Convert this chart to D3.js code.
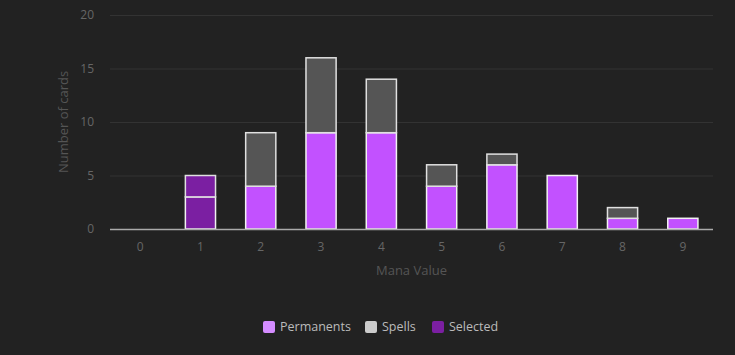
<!DOCTYPE html>
<html><head><meta charset="utf-8">
<script src="https://cdn.jsdelivr.net/npm/d3@7"></script>
<style>
html,body{margin:0;padding:0;background:#222222;}
svg{display:block;font-family:"Open Sans",sans-serif;}
</style></head>
<body><svg id="c" width="735" height="355"></svg>
<script>
const categories = ["0","1","2","3","4","5","6","7","8","9"];
const permanents = [0,3,4,9,9,4,6,5,1,1];
const spells = [0,2,5,7,5,2,1,0,1,0];
const selectedIndex = ["1"];
const yTicks = [0,5,10,15,20];
const legendItems = ["Permanents","Spells","Selected"];
const legendColors = ["#d48cff","#cccccc","#7b1fa2"];

const svg = d3.select("#c");
const m = {l:110, r:22, t:15, b:126};
const W = 735, H = 355;
const x = d3.scaleBand().domain(categories).range([m.l, W-m.r]).paddingInner(0.5).paddingOuter(0.25);
const y = d3.scaleLinear().domain([0,20]).range([H-m.b, m.t]);

// gridlines
svg.append("g").selectAll("line").data(yTicks.filter(d=>d>0)).join("line")
  .attr("x1", m.l).attr("x2", W-m.r)
  .attr("y1", d=>y(d)+0.5).attr("y2", d=>y(d)+0.5)
  .attr("stroke","#333333").attr("stroke-width",1);

// y labels
svg.append("g").selectAll("text").data(yTicks).join("text")
  .attr("x", m.l-16).attr("y", d=>y(d)).attr("dy","0.35em")
  .attr("text-anchor","end").attr("fill","#666666").attr("font-size",12)
  .text(d=>d);

// x labels
svg.append("g").selectAll("text").data(categories).join("text")
  .attr("x", d=>x(d)+x.bandwidth()/2).attr("y", y(0)+18).attr("dy","0.35em")
  .attr("text-anchor","middle").attr("fill","#666666").attr("font-size",12)
  .text(d=>d);

// bars
const bars = svg.append("g");
categories.forEach((c,i)=>{
  const sel = selectedIndex.includes(c);
  const p = permanents[i], s = spells[i];
  if (p>0) bars.append("rect")
    .attr("x", x(c)).attr("width", x.bandwidth())
    .attr("y", y(p)).attr("height", y(0)-y(p))
    .attr("fill", sel ? "#7b1fa2" : "#c251ff")
    .attr("stroke", "#f2f2f2").attr("stroke-width",1.5);
  if (s>0) bars.append("rect")
    .attr("x", x(c)).attr("width", x.bandwidth())
    .attr("y", y(p+s)).attr("height", y(p)-y(p+s))
    .attr("fill", sel ? "#7b1fa2" : "#555555")
    .attr("stroke", "#e0e0e0").attr("stroke-width",1.5);
});

// baseline
svg.append("line").attr("x1", m.l).attr("x2", W-m.r)
  .attr("y1", y(0)+0.5).attr("y2", y(0)+0.5)
  .attr("stroke","#aaaaaa").attr("stroke-width",1.5);

// axis titles
svg.append("text").attr("transform",`translate(63,${(y(0)+y(20))/2}) rotate(-90)`)
  .attr("text-anchor","middle").attr("dy","0.35em").attr("fill","#555555").attr("font-size",13)
  .text("Number of cards");
svg.append("text").attr("x",(m.l+W-m.r)/2).attr("y",270).attr("dy","0.35em")
  .attr("text-anchor","middle").attr("fill","#555555").attr("font-size",13)
  .text("Mana Value");

// legend
const lx = [263,365,432];
const lg = svg.append("g");
legendItems.forEach((t,i)=>{
  lg.append("rect").attr("x",lx[i]).attr("y",321).attr("width",12).attr("height",12)
    .attr("rx",2).attr("fill",legendColors[i]);
  lg.append("text").attr("x",lx[i]+17).attr("y",327).attr("dy","0.35em")
    .attr("fill","#bbbbbb").attr("font-size",12.5).text(t);
});
</script></body></html>
